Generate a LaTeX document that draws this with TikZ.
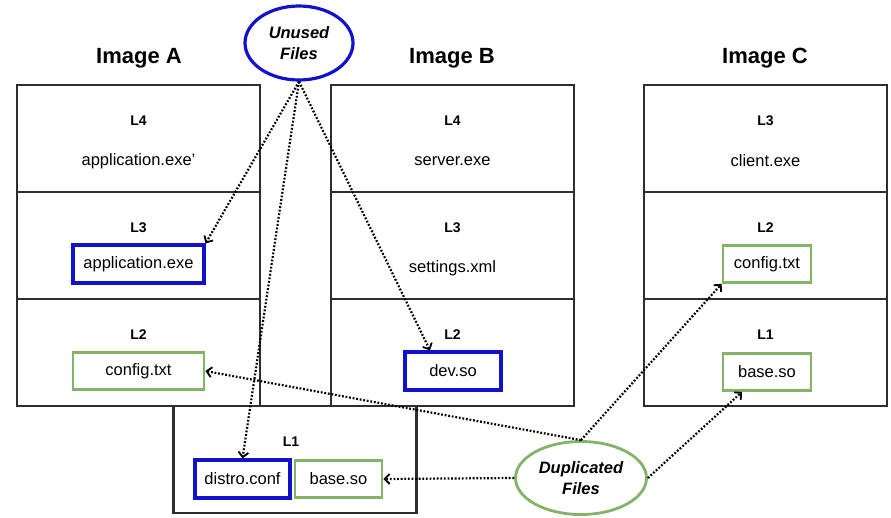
\documentclass[tikz,border=0pt]{standalone}
\usepackage{fontspec}
\setmainfont{Liberation Sans}
\usetikzlibrary{positioning, arrows.meta, shapes.geometric}
\definecolor{usedblue}{RGB}{18,18,204}
\definecolor{dupgreen}{RGB}{130,179,102}
\definecolor{cellgray}{RGB}{45,45,45}

\begin{document}
\begin{tikzpicture}[
        x=1pt, y=-1pt,
        layer/.style={rectangle, draw=cellgray, line width=2.2pt, minimum width=243pt, minimum height=107pt, inner sep=0pt},
        imgtitle/.style={font=\fontsize{22}{26}\selectfont\bfseries},
        lname/.style={font=\fontsize{14}{16}\selectfont\bfseries},
        fname/.style={font=\fontsize{16.5}{19}\selectfont},
        blueframe/.style={fname, rectangle, draw=usedblue, line width=3.2pt, minimum height=38pt, inner sep=0pt},
        greenframe/.style={fname, rectangle, draw=dupgreen, line width=2.8pt, minimum height=37pt, inner sep=0pt},
        tag/.style={ellipse, align=center, inner sep=0pt, font=\fontsize{16.5}{21}\selectfont\bfseries\itshape},
        link/.style={line width=2.2pt, dash pattern=on 1.8pt off 1.8pt, -{Straight Barb[length=5pt,width=10pt,line width=1.8pt]}},
    ]
    \useasboundingbox (0,0) rectangle (891,517);

    % image titles
    \node[imgtitle] (titleA) at (139,58) {Image A};
    \node[imgtitle] (titleB) at (452,58) {Image B};
    \node[imgtitle] (titleC) at (765,58) {Image C};

    % image A
    \node[layer] (imgA4) at (138.5,138.5) {};
    \node[layer] (imgA3) at (138.5,245.5) {};
    \node[layer] (imgA2) at (138.5,352.5) {};
    \node[lname] at (138.5,121) {L4};
    \node[fname] at (138.5,161) {application.exe'};
    \node[lname] at (138.5,228) {L3};
    \node[blueframe, minimum width=131pt] (appA) at (138.5,264) {application.exe};
    \node[lname] at (138.5,335) {L2};
    \node[greenframe, minimum width=131pt] (configA) at (138.5,371) {config.txt};

    % image B
    \node[layer] (imgB4) at (452.5,138.5) {};
    \node[layer] (imgB3) at (452.5,245.5) {};
    \node[layer] (imgB2) at (452.5,352.5) {};
    \node[lname] at (452.5,121) {L4};
    \node[fname] at (452.5,161) {server.exe};
    \node[lname] at (452.5,228) {L3};
    \node[fname] at (452.5,268) {settings.xml};
    \node[lname] at (452.5,335) {L2};
    \node[blueframe, minimum width=96pt] (devB) at (453,371) {dev.so};

    % shared base layer
    \node[layer] (imgL1) at (295,459.5) {};
    \node[lname] at (291,442) {L1};
    \node[blueframe, minimum width=95pt] (distro) at (242.5,479) {distro.conf};
    \node[greenframe, minimum width=87pt] (baseL1) at (338.5,479) {base.so};

    % image C
    \node[layer] (imgC3) at (765.5,138.5) {};
    \node[layer] (imgC2) at (765.5,245.5) {};
    \node[layer] (imgC1) at (765.5,352.5) {};
    \node[lname] at (765.5,121) {L3};
    \node[fname] at (765.5,161) {client.exe};
    \node[lname] at (765.5,228) {L2};
    \node[greenframe, minimum width=88pt] (configC) at (767,264) {config.txt};
    \node[lname] at (765.5,335) {L1};
    \node[greenframe, minimum width=88pt] (baseC) at (767,372) {base.so};

    % tags
    \node[tag, draw=usedblue, line width=3.2pt, minimum width=108pt, minimum height=74pt] (unusedF) at (299,43) {Unused\\Files};
    \node[tag, draw=dupgreen, line width=2.8pt, minimum width=131pt, minimum height=73pt] (dupF) at (581,478) {Duplicated\\Files};

    % links
    \draw[link] (unusedF.south) -- (appA.north east);
    \draw[link] (unusedF.south) -- (distro.north);
    \draw[link] (unusedF.south) -- ([xshift=-23pt]devB.north);
    \draw[link] (dupF.north) -- (configA.east);
    \draw[link] (dupF.north) -- (configC.south west);
    \draw[link] (dupF.west) -- (baseL1.east);
    \draw[link] (dupF.east) -- ([xshift=-25pt]baseC.south);
\end{tikzpicture}
\end{document}
